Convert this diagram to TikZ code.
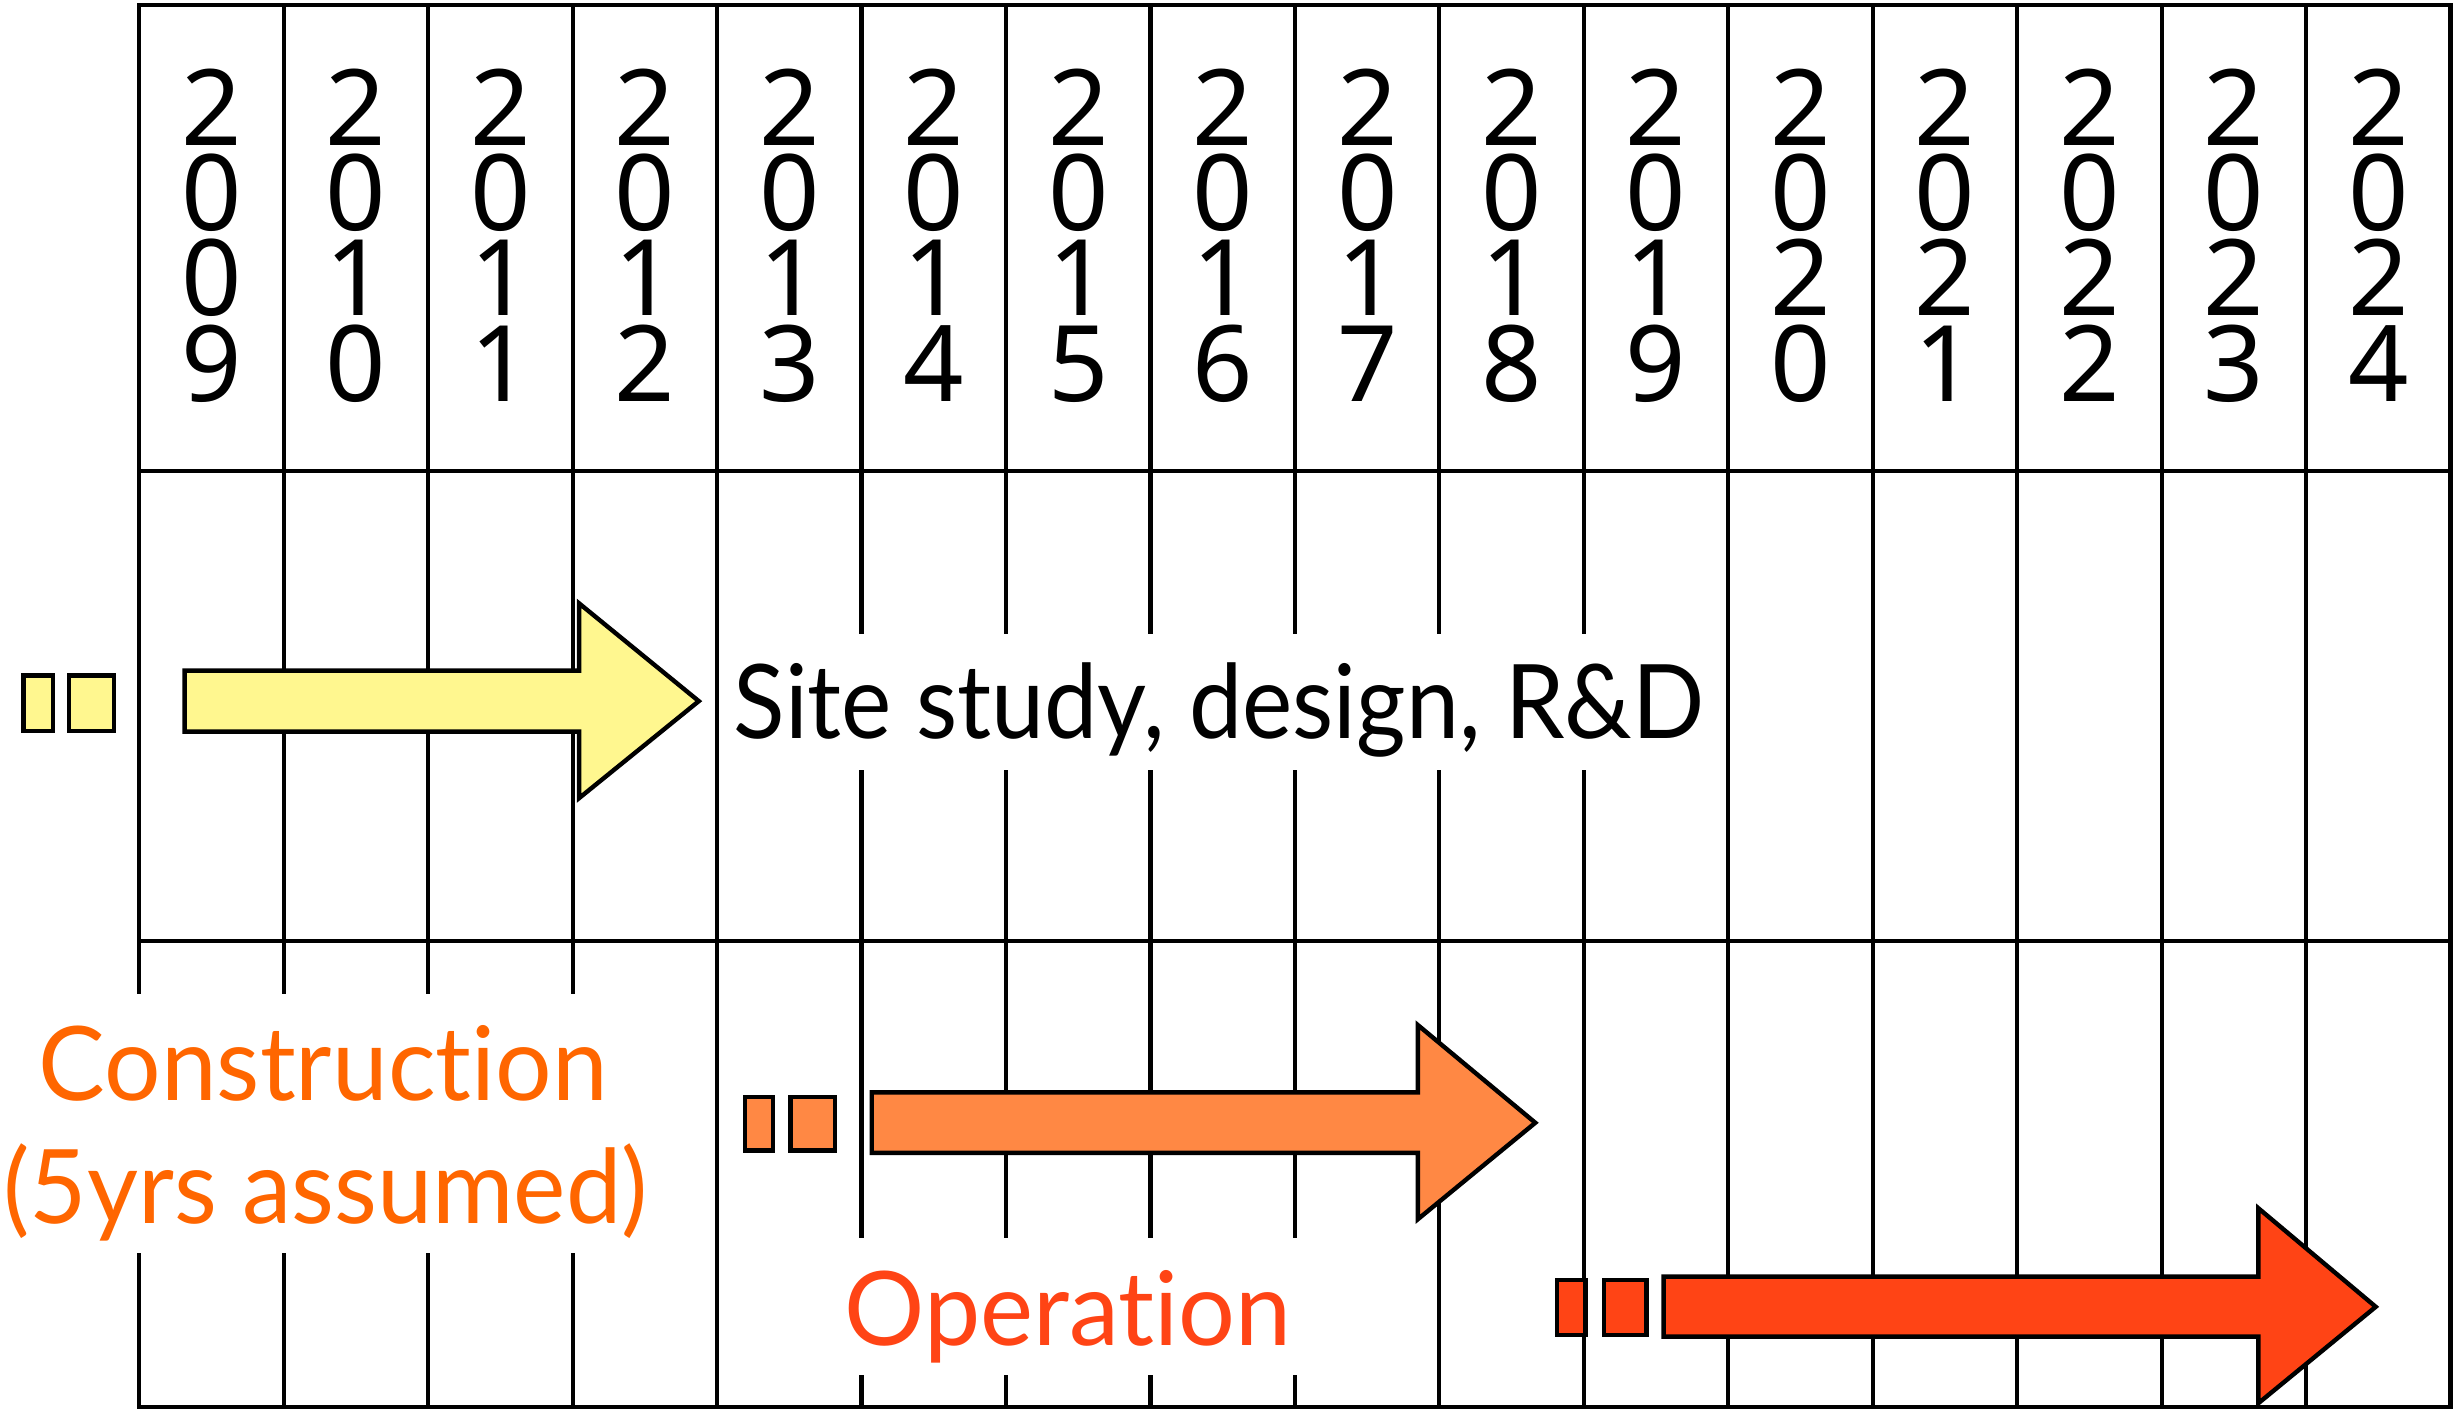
\documentclass[tikz,border=0pt]{standalone}
\usepackage{fontspec}
\newfontfamily\labelfont[Ligatures=CommonOff]{Lato}
\newfontfamily\digitfont{Noto Sans}
\definecolor{yelfill}{HTML}{FFF78F}
\definecolor{orfill}{HTML}{FF8844}
\definecolor{redfill}{HTML}{FF4415}
\definecolor{constrcol}{HTML}{FF6600}
\definecolor{opercol}{HTML}{FF4415}
\begin{document}
\begin{tikzpicture}[x=0.01cm,y=0.01cm,
  gridline/.style={line width=0.75pt, line cap=rect},
  shapeline/.style={line width=0.8pt, line join=miter, draw=black},
  digit/.style={anchor=base, inner sep=0pt, font=\digitfont\fontsize{19.2}{20}\selectfont},
  lbl/.style={anchor=base, inner sep=0pt, font=\labelfont\fontsize{18.7}{22}\selectfont}]
\useasboundingbox (0,0) rectangle (1568,902);
% horizontal lines
\draw[gridline] (89,899) -- (1566,899);
\draw[gridline] (89,601) -- (1566,601);
\draw[gridline] (89,301) -- (1566,301);
\draw[gridline] (89,3) -- (1566,3);
% vertical lines
\foreach \k in {0,...,3}{
  \pgfmathsetmacro{\xx}{89+\k*92.3}
  \draw[gridline] (\xx,899) -- (\xx,268);
  \draw[gridline] (\xx,100) -- (\xx,3);
}
\foreach \k in {4,11,12,13,14,15,16}{
  \pgfmathsetmacro{\xx}{89+\k*92.3}
  \draw[gridline] (\xx,899) -- (\xx,3);
}
\foreach \k in {5,...,8}{
  \pgfmathsetmacro{\xx}{89+\k*92.3}
  \draw[gridline] (\xx,899) -- (\xx,498);
  \draw[gridline] (\xx,409) -- (\xx,112);
  \draw[gridline] (\xx,22) -- (\xx,3);
}
\foreach \k in {9,10}{
  \pgfmathsetmacro{\xx}{89+\k*92.3}
  \draw[gridline] (\xx,899) -- (\xx,498);
  \draw[gridline] (\xx,409) -- (\xx,3);
}
% year digits
\foreach \k in {0,...,15}{
  \pgfmathsetmacro{\xc}{135.2+\k*92.3}
  \pgfmathtruncatemacro{\dc}{(9+\k)/10}
  \pgfmathtruncatemacro{\dd}{mod(9+\k,10)}
  \node[digit] (yr\k a) at (\xc,809.3) {2};
  \node[digit] (yr\k b) at (\xc,755) {0};
  \node[digit] (yr\k c) at (\xc,700.5) {\dc};
  \node[digit] (yr\k d) at (\xc,645.5) {\dd};
}
% labels
\node[lbl] (site) at (779,430) {\scalebox{0.924}[1]{Site study, design, R\&D}};
\node[lbl, text=constrcol] (constr1) at (206.5,199) {\scalebox{0.97}[1]{Construction}};
\node[lbl, text=constrcol] (constr2) at (208,120.5) {\scalebox{0.962}[1]{(5yrs assumed)}};
\node[lbl, text=opercol] (oper) at (682.5,42) {\scalebox{0.975}[1]{Operation}};
% yellow arrow
\draw[shapeline, fill=yelfill] (15,435) rectangle (34,470.5);
\draw[shapeline, fill=yelfill] (44,435) rectangle (73,470.5);
\draw[shapeline, fill=yelfill] (118,473.5) -- (370,473.5) -- (370,516.5) -- (446.5,454) -- (370,392) -- (370,434.5) -- (118,434.5) -- cycle;
% orange arrow
\draw[shapeline, fill=orfill] (476,167) rectangle (494,201);
\draw[shapeline, fill=orfill] (505,167) rectangle (533.5,201);
\draw[shapeline, fill=orfill] (557,204) -- (906,204) -- (906,247) -- (981,184.6) -- (906,123) -- (906,165.4) -- (557,165.4) -- cycle;
% red arrow
\draw[shapeline, fill=redfill] (995,49) rectangle (1013,84);
\draw[shapeline, fill=redfill] (1025,49) rectangle (1052,84);
\draw[shapeline, fill=redfill] (1063,86.3) -- (1443,86.3) -- (1443,130) -- (1518,67) -- (1443,5.4) -- (1443,48) -- (1063,48) -- cycle;
\end{tikzpicture}
\end{document}
